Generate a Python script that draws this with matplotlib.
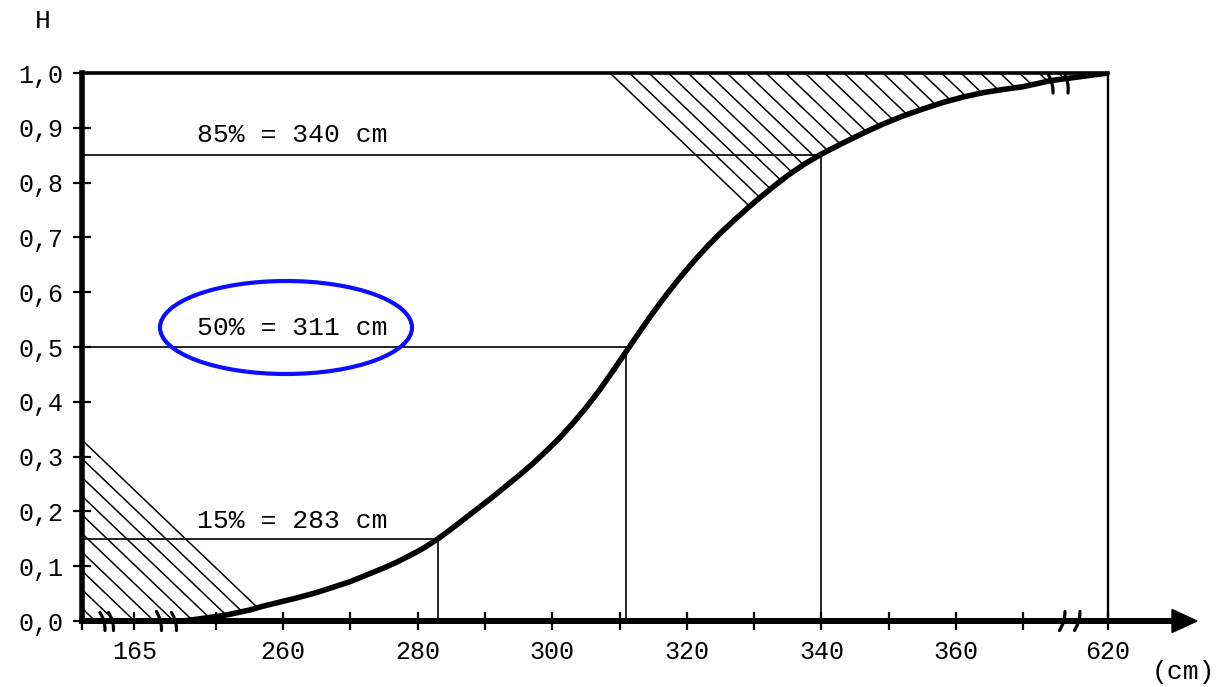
import numpy as np
import matplotlib
matplotlib.use("Agg")
import matplotlib.pyplot as plt
from matplotlib.patches import Ellipse, Polygon

# ---------------- data ----------------
curve_cm = [245, 247, 250, 252, 255, 257, 260, 262, 265, 267, 270, 272, 275, 277, 280,
            281, 283, 285, 287, 289, 291, 293, 295, 297, 299, 301, 303, 305, 307, 309,
            311, 313, 315, 317, 319, 321, 323, 325, 327, 329, 331, 333, 335, 337.5, 340,
            343, 346, 349, 352, 355, 358, 361, 364, 367, 370, 450, 620]
curve_h = [0.000, 0.003, 0.008, 0.012, 0.020, 0.027, 0.036, 0.042, 0.052, 0.060, 0.072,
           0.082, 0.097, 0.108, 0.127, 0.134, 0.150, 0.168, 0.187, 0.206, 0.225, 0.245,
           0.265, 0.286, 0.309, 0.333, 0.360, 0.389, 0.421, 0.456, 0.492, 0.528, 0.563,
           0.596, 0.627, 0.656, 0.683, 0.708, 0.731, 0.753, 0.774, 0.794, 0.813, 0.834,
           0.852, 0.871, 0.889, 0.906, 0.921, 0.934, 0.946, 0.956, 0.964, 0.970, 0.975,
           0.986, 1.000]

pct_levels = [0.15, 0.50, 0.85]
pct_values = [283, 311, 340]
pct_labels = ["15% = 283 cm", "50% = 311 cm", "85% = 340 cm"]

xtick_vals = [60, 165, 250, 260, 270, 280, 290, 300, 310, 320, 330, 340, 350, 360, 370, 620]
xtick_labels = ["", "165", "", "260", "", "280", "", "300", "", "320", "", "340", "", "360", "", "620"]
ytick_vals = [0.0, 0.1, 0.2, 0.3, 0.4, 0.5, 0.6, 0.7, 0.8, 0.9, 1.0]
ytick_labels = ["0,0", "0,1", "0,2", "0,3", "0,4", "0,5", "0,6", "0,7", "0,8", "0,9", "1,0"]

# broken axis: real cm -> drawing position
brk_real = [60, 165, 245, 370, 620, 900]
brk_pos = [230.1, 237.9, 245, 370, 382.6, 396.7]

FONT = "Liberation Mono"
plt.rcParams["font.family"] = [FONT, "DejaVu Sans"]

fig = plt.figure(figsize=(12.31, 6.87), dpi=100)
FW, FH = 1231.0, 687.0
L, R, T, B = 82.0, 1108.0, 73.0, 621.0
ax = fig.add_axes([L / FW, 1 - B / FH, (R - L) / FW, (B - T) / FH])
W, H = R - L, B - T


def fwd(x):
    return np.interp(x, brk_real, brk_pos)


def inv(p):
    return np.interp(p, brk_pos, brk_real)


ax.set_xscale("function", functions=(fwd, inv))


def af(px, py):
    """reference pixel -> axes fraction"""
    return ((px - L) / W, (B - py) / H)


# curve
ax.plot(curve_cm, curve_h, color="black", lw=4.0, solid_capstyle="round",
        solid_joinstyle="round", zorder=5)

# percentile guide lines
for lev, val in zip(pct_levels, pct_values):
    ax.plot([60, val], [lev, lev], color="black", lw=1.2, zorder=3)
    ax.plot([val, val], [lev, 0], color="black", lw=1.2, zorder=3)

# ----- hatching (region above / left of the curve) -----
pts = list(zip(curve_cm, curve_h))
clip_poly = Polygon(pts + [(60, 1.0), (60, 0.0)], closed=True, fill=False,
                    edgecolor="none", transform=ax.transData)
ax.add_patch(clip_poly)

slope = 0.955
for k in range(30):
    X0 = 528 + 19.5 * k
    xs = np.array([X0, X0 + 700])
    ys = np.array([H, H - slope * 700])
    ln, = ax.plot(xs / W, ys / H, transform=ax.transAxes, color="black", lw=1.1, zorder=2)
    ln.set_clip_path(clip_poly)
for k in range(12):
    Y0 = 181 - 18.7 * k
    if Y0 <= 0:
        break
    xs = np.array([0, 700])
    ys = np.array([Y0, Y0 - slope * 700])
    ln, = ax.plot(xs / W, ys / H, transform=ax.transAxes, color="black", lw=1.1, zorder=2)
    ln.set_clip_path(clip_poly)

# ----- axes styling -----
ax.set_xlim(60, 620)
ax.set_ylim(0, 1)
ax.spines["left"].set_linewidth(4.0)
ax.spines["bottom"].set_linewidth(4.3)
ax.spines["top"].set_linewidth(2.6)
ax.spines["right"].set_linewidth(1.7)
for s in ax.spines.values():
    s.set_zorder(6)

ax.set_xticks(xtick_vals, xtick_labels)
ax.set_yticks(ytick_vals, ytick_labels)
ax.minorticks_off()
ax.tick_params(axis="x", direction="inout", length=13, width=1.6, pad=7, labelsize=18)
ax.tick_params(axis="y", direction="inout", length=13, width=1.6, pad=7, labelsize=18)

# axis arrow extension
ax.plot([1.0, af(1175, 0)[0]], [0, 0], transform=ax.transAxes, color="black",
        lw=4.3, clip_on=False, solid_capstyle="butt", zorder=6)
head = Polygon([af(1172, 609.5), af(1197, 621), af(1172, 632.5)], closed=True,
               transform=ax.transAxes, facecolor="black", edgecolor="black",
               clip_on=False, zorder=6)
ax.add_patch(head)

# break marks (slightly curved strokes)
marks = [
    ((100, 612.5), (105, 630.5)), ((108.5, 612.5), (113.5, 630.5)),
    ((156.5, 611.5), (161.5, 630.5)), ((171.5, 612.5), (176.5, 630.5)),
    ((1065, 611.5), (1059.5, 630.5)), ((1080, 611.5), (1074.5, 630.5)),
    ((1048, 74), (1053, 93)), ((1064.5, 74), (1068, 93)),
]
for (p0, p1) in marks:
    t = np.linspace(0, 1, 9)
    px = p0[0] + (p1[0] - p0[0]) * t
    py = p0[1] + (p1[1] - p0[1]) * t
    px = px + 1.5 * np.sin(np.pi * t)
    a = np.array([af(x, y) for x, y in zip(px, py)])
    ax.plot(a[:, 0], a[:, 1], transform=ax.transAxes, color="black",
            lw=2.3, clip_on=False, zorder=7, solid_capstyle="round")

# percentile labels
label_base_py = [528.3, 335.3, 142.0]
for lab, py in zip(pct_labels, label_base_py):
    x, y = af(197, py)
    ax.text(x, y, lab, transform=ax.transAxes, ha="left", va="baseline",
            fontsize=19, family=FONT, zorder=8)

# blue ellipse
ex, ey = af(286, 327.5)
ax.add_patch(Ellipse((ex, ey), 252 / W, 93 / H, transform=ax.transAxes, fill=False,
                     edgecolor="#0d0dff", lw=3.0, clip_on=False, zorder=9))

# axis titles
fig.text(43 / FW, 1 - 21.5 / FH, "H", ha="center", va="center", fontsize=19, family=FONT)
fig.text(1183 / FW, 1 - 672 / FH, "(cm)", ha="center", va="center", fontsize=19, family=FONT)

fig.savefig("out.png", dpi=100)
